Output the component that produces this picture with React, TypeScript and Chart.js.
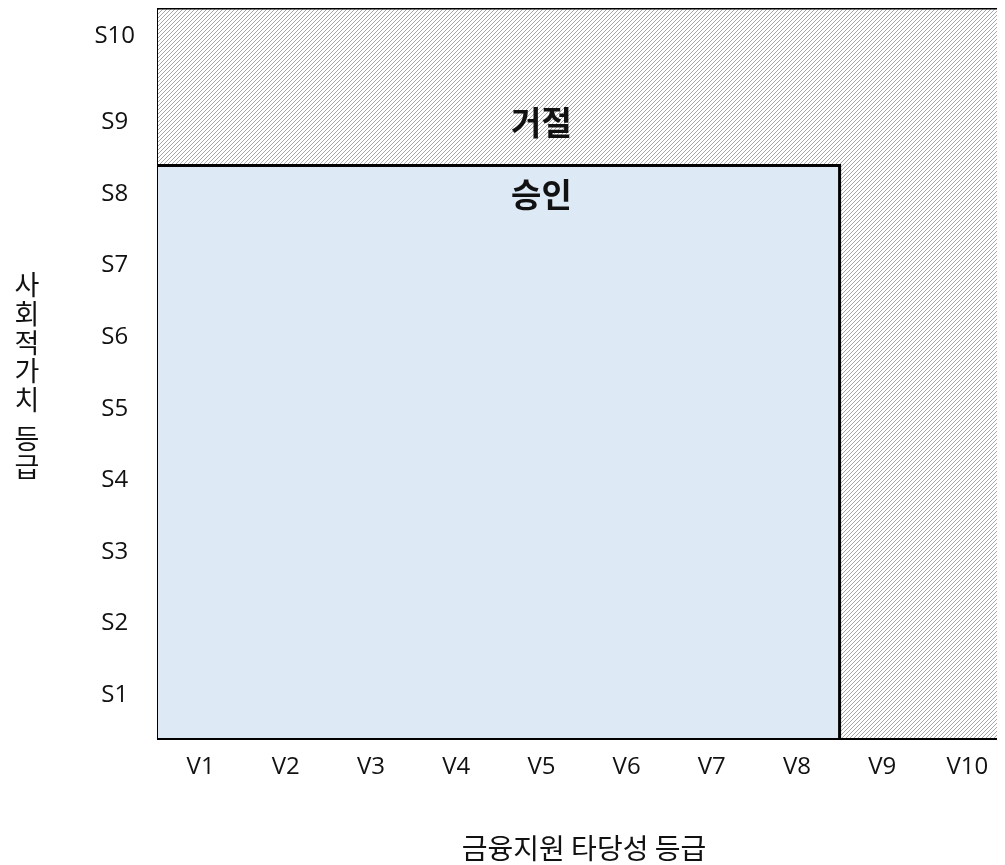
import { useEffect, useRef } from 'react';
import { Chart, registerables } from 'chart.js';

Chart.register(...registerables);

// ---- data ----
const xCategories = ['V1', 'V2', 'V3', 'V4', 'V5', 'V6', 'V7', 'V8', 'V9', 'V10'];
const yCategories = ['S1', 'S2', 'S3', 'S4', 'S5', 'S6', 'S7', 'S8', 'S9', 'S10'];
const yTickValues = [1, 2, 3, 4, 5, 6, 7, 8, 9, 10.2];
const xRange = [0.5, 10.5];
const yRange = [0.4, 10.6];
// 거절 region: whole grid (top edge)
const rejectRegion = [
  { x: 0.5, y: 10.6 },
  { x: 10.5, y: 10.6 },
];
// 승인 region: V1..V8 x S1..S8
const approveRegion = [
  { x: 0.5, y: 8.4 },
  { x: 8.5, y: 8.4 },
  { x: 8.5, y: 0.4 },
];
const regionLabels = ['거절', '승인'];
const regionLabelPoints = [
  { x: 5, y: 9 },
  { x: 5, y: 8 },
];
const xTitle = '금융지원 타당성 등급';
const yTitle = '사회적가치 등급';

const LATIN = '"Open Sans", "Noto Sans", sans-serif';
const KR = '"Noto Sans CJK KR", "Noto Sans", sans-serif';

function makeHatch(ctx: CanvasRenderingContext2D) {
  const c = document.createElement('canvas');
  c.width = 4;
  c.height = 4;
  const g = c.getContext('2d')!;
  g.fillStyle = '#ffffff';
  g.fillRect(0, 0, 4, 4);
  g.fillStyle = '#a8a8a8';
  for (let i = 0; i < 4; i++) g.fillRect(3 - i, i, 1, 1);
  return ctx.createPattern(c, 'repeat');
}

const regionLabelPlugin = {
  id: 'regionLabels',
  afterDatasetsDraw(chart: any) {
    const { ctx, scales } = chart;
    ctx.save();
    ctx.font = `bold 33px ${KR}`;
    ctx.fillStyle = '#111111';
    ctx.textAlign = 'center';
    ctx.textBaseline = 'middle';
    regionLabels.forEach((t, i) => {
      const p = regionLabelPoints[i];
      ctx.fillText(t, scales.x.getPixelForValue(p.x), scales.y.getPixelForValue(p.y));
    });
    ctx.restore();
  },
};

const yTitlePlugin = {
  id: 'yTitleStacked',
  afterDraw(chart: any) {
    const { ctx, chartArea } = chart;
    const lineH = 28.7;
    const spaceH = 10;
    const chars = Array.from(yTitle);
    let total = 0;
    chars.forEach((ch) => (total += ch === ' ' ? spaceH : lineH));
    const cy = (chartArea.top + chartArea.bottom) / 2 + 3;
    let y = cy - total / 2;
    ctx.save();
    ctx.font = `27px ${KR}`;
    ctx.fillStyle = '#111111';
    ctx.textAlign = 'center';
    ctx.textBaseline = 'middle';
    chars.forEach((ch) => {
      if (ch === ' ') {
        y += spaceH;
        return;
      }
      ctx.fillText(ch, 19, y + lineH / 2);
      y += lineH;
    });
    ctx.restore();
  },
};

export default function App() {
  const ref = useRef<HTMLCanvasElement | null>(null);

  useEffect(() => {
    document.documentElement.style.overflow = 'hidden';
    const canvas = ref.current!;
    const ctx = canvas.getContext('2d')!;
    const hatch = makeHatch(ctx);
    const chart = new Chart(canvas, {
      type: 'line',
      data: {
        datasets: [
          {
            label: '승인',
            data: approveRegion,
            borderColor: '#000000',
            borderWidth: 3,
            backgroundColor: '#ddeaf6',
            fill: 'start',
            pointRadius: 0,
            tension: 0,
          },
          {
            label: '거절',
            data: rejectRegion,
            borderColor: '#000000',
            borderWidth: 3,
            backgroundColor: hatch as any,
            fill: 'start',
            pointRadius: 0,
            tension: 0,
            clip: false as any,
          },
        ],
      },
      options: {
        animation: false,
        responsive: false,
        layout: { padding: 0 },
        plugins: {
          legend: { display: false },
          tooltip: { enabled: false },
        },
        scales: {
          x: {
            type: 'linear',
            min: xRange[0],
            max: xRange[1],
            grid: { display: false, drawTicks: false },
            border: { display: true, color: '#000000', width: 3 },
            afterBuildTicks: (scale: any) => {
              scale.ticks = xCategories.map((_, i) => ({ value: i + 1 }));
            },
            afterFit: (scale: any) => {
              scale.height = 127;
              scale.paddingLeft = 0;
              scale.paddingRight = 0;
            },
            ticks: {
              padding: 15,
              color: '#111111',
              font: { family: LATIN, size: 24 },
              callback: (_v: any, i: number) => xCategories[i],
            },
            title: {
              display: true,
              text: xTitle,
              color: '#111111',
              font: { family: KR, size: 28 },
              padding: { top: 0, bottom: 0 },
            },
          },
          y: {
            type: 'linear',
            min: yRange[0],
            max: yRange[1],
            grid: { display: false, drawTicks: false },
            border: { display: true, color: '#000000', width: 3 },
            afterBuildTicks: (scale: any) => {
              scale.ticks = yTickValues.map((v) => ({ value: v }));
            },
            afterFit: (scale: any) => {
              scale.width = 150;
              scale.paddingTop = 0;
              scale.paddingBottom = 0;
            },
            ticks: {
              padding: 23,
              crossAlign: 'center',
              color: '#111111',
              font: { family: LATIN, size: 24 },
              callback: (_v: any, i: number) => yCategories[i],
            },
          },
        },
      },
      plugins: [regionLabelPlugin, yTitlePlugin],
    } as any);
    return () => chart.destroy();
  }, []);

  return (
    <div style={{ width: 997, height: 857, overflow: 'hidden' }}>
      <canvas ref={ref} width={1002} height={857} style={{ display: 'block' }} />
    </div>
  );
}
